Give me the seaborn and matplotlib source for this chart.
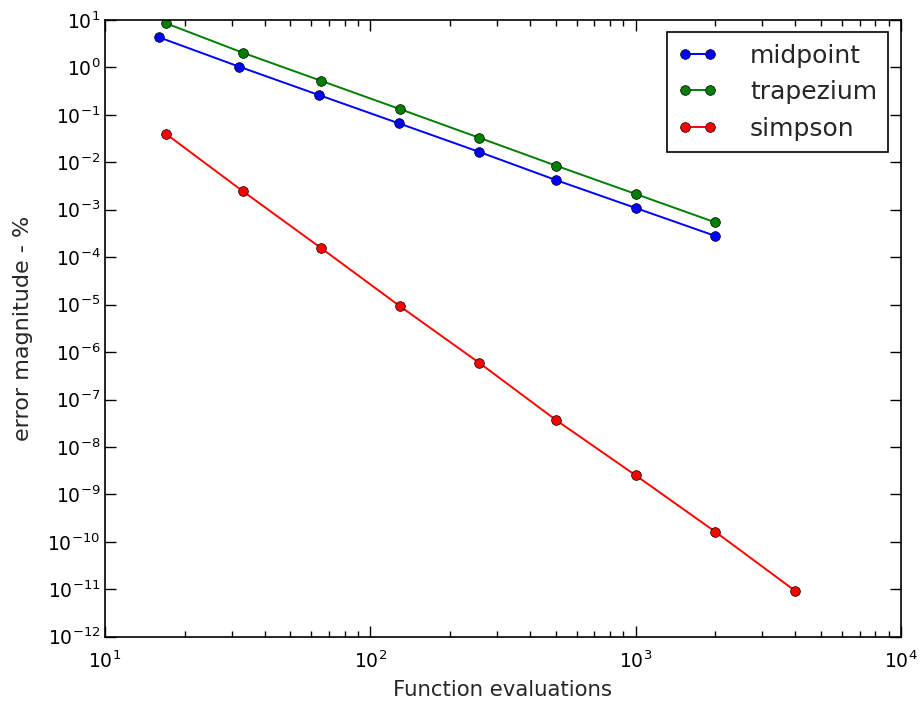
import numpy as np
import pandas as pd
import matplotlib
matplotlib.use("Agg")
import matplotlib.pyplot as plt
from matplotlib.ticker import LogLocator, NullLocator
import seaborn as sns

# Convergence of three quadrature rules: error vs number of function evaluations
methods = ["midpoint", "trapezium", "simpson"]

midpoint_evals = [16, 32, 64, 128, 256, 500, 1000, 2000]
midpoint_error = [4.3, 1.04, 0.262, 0.0664, 0.01675, 0.00424, 0.00109, 2.8e-4]

trapezium_evals = [17, 33, 65, 129, 257, 501, 1001, 2001]
trapezium_error = [8.5, 2.05, 0.526, 0.133, 0.033, 0.0085, 0.00215, 5.4e-4]

simpson_evals = [17, 33, 65, 129, 257, 501, 1001, 2001, 4001]
simpson_error = [0.0395, 0.00248, 1.58e-4, 9.35e-6, 5.97e-7, 3.7e-8,
                 2.52e-9, 1.62e-10, 9.2e-12]

colors = {"midpoint": "#0000ff", "trapezium": "#007f00", "simpson": "#ff0000"}

frames = []
for name, xs, ys in [("midpoint", midpoint_evals, midpoint_error),
                     ("trapezium", trapezium_evals, trapezium_error),
                     ("simpson", simpson_evals, simpson_error)]:
    frames.append(pd.DataFrame({"evals": xs, "error": ys, "method": name}))
df = pd.concat(frames, ignore_index=True)

sns.set_style("ticks")
plt.rcParams["font.family"] = ["DejaVu Sans"]
plt.rcParams["axes.unicode_minus"] = False

fig = plt.figure(figsize=(9.23, 7.01), dpi=100)
ax = fig.add_axes([0.1138, 0.0917, 0.8622, 0.8798])

sns.lineplot(data=df, x="evals", y="error", hue="method", hue_order=methods,
             palette=colors, marker="o", markersize=7, markeredgecolor="black",
             markeredgewidth=0.5, linewidth=1.4, estimator=None, sort=True,
             legend=False, ax=ax)

ax.set_xscale("log")
ax.set_yscale("log")
ax.set_xlim(10, 1e4)
ax.set_ylim(1e-12, 10)

ax.yaxis.set_major_locator(LogLocator(base=10, numticks=30))
ax.yaxis.set_minor_locator(NullLocator())
ax.xaxis.set_major_locator(LogLocator(base=10, numticks=10))
ax.xaxis.set_minor_locator(LogLocator(base=10, subs=np.arange(2, 10), numticks=50))

ax.tick_params(which="both", direction="in", top=True, right=True,
               colors="black", labelsize=13.5)
ax.tick_params(which="major", length=8, width=1)
ax.tick_params(which="minor", length=4, width=1)
ax.tick_params(axis="x", pad=10)
for s in ax.spines.values():
    s.set_color("black")
    s.set_linewidth(1.2)

ax.set_xlabel("Function evaluations", fontsize=15.3, labelpad=6)
ax.set_ylabel("error magnitude - %", fontsize=16, labelpad=10)

handles = ax.get_lines()[:3]
leg = ax.legend(handles, methods, loc="upper right", numpoints=2,
                fontsize=18, frameon=True, fancybox=False,
                borderaxespad=0.5, borderpad=0.45, labelspacing=0.5,
                handlelength=1.6, handletextpad=1.28)
leg.get_frame().set_edgecolor("black")
leg.get_frame().set_linewidth(1.2)
leg.get_frame().set_alpha(1)

fig.savefig("out.png", dpi=100)
